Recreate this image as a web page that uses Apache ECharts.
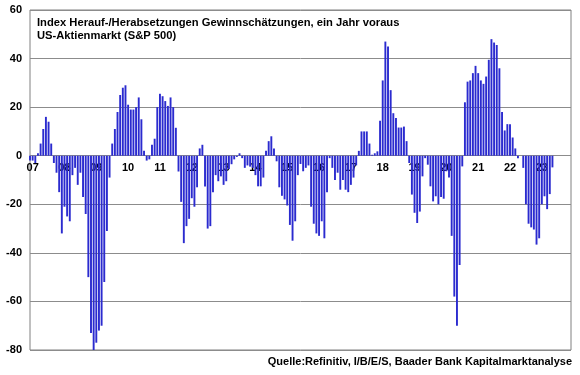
<!DOCTYPE html>
<html>
<head>
<meta charset="utf-8">
<script src="https://cdn.jsdelivr.net/npm/echarts@6/dist/echarts.min.js"></script>
<style>
html,body{margin:0;padding:0;background:#fff;}
#chart{width:580px;height:375px;}
</style>
</head>
<body>
<div id="chart"></div>
<script>
// Monthly values, Dec 2006 .. May 2023
var dec2006 = [-2];
var y2007 = [-2, -3, 1, 5, 11, 16, 14, 5, -3, -7, -15, -32];
var y2008 = [-21, -25, -27, -8, -5, -12, -7, -17, -24, -50, -73, -80];
var y2009 = [-77, -72, -70, -52, -31, -9, 5, 11, 18, 25, 28, 29];
var y2010 = [21, 19, 19, 20, 24, 15, 2, -2, -1.5, 4.5, 7, 20];
var y2011 = [25.5, 24.5, 22.5, 20.5, 24, 20, 11.5, -6.5, -19, -36, -29, -26];
var y2012 = [-17.5, -21, -13, 3, 4.5, -12.7, -30, -29, -15, -8, -10.5, -8.5];
var y2013 = [-12, -10.5, -5.5, -3.5, -1.5, -0.5, 1, -1, -5, -4, -4.5, -5];
var y2014 = [-8, -12.6, -12.6, -9, 2, 6, 8, 3, -2.3, -13, -16.5, -18];
var y2015 = [-20.5, -28.5, -35, -27, -8, -3.4, -6.4, -5, -4, -21, -28, -32];
var y2016 = [-33, -27, -34, -15, -1, -5, -10, -7, -14, -10, -14, -15];
var y2017 = [-12, -9, -4, 2, 10, 10, 10, 5, 0.4, 1, 1.8, 14.4];
var y2018 = [31, 47, 45, 27, 17.5, 15.5, 11.6, 11.6, 12, 6, -3, -16];
var y2019 = [-23.5, -27.7, -23, -8.5, -1, -3.7, -12.6, -18.8, -16.7, -20, -17, -17.7];
var y2020 = [-6.4, -9, -33, -58, -70, -45, -4.4, 22, 30.5, 31, 34, 37];
var y2021 = [34, 31, 29.6, 32.6, 39.5, 48, 46.6, 45.6, 36, 18, 10.4, 13];
var y2022 = [13, 7.5, 3, -1, 0, -5, -20, -28, -29.5, -30.4, -36.6, -34];
var y2023 = [-20, -16.7, -22, -15.8, -4.8];

var years = [2007, 2008, 2009, 2010, 2011, 2012, 2013, 2014, 2015, 2016, 2017, 2018, 2019, 2020, 2021, 2022, 2023];
var yearValues = [y2007, y2008, y2009, y2010, y2011, y2012, y2013, y2014, y2015, y2016, y2017, y2018, y2019, y2020, y2021, y2022, y2023];
var yTicks = [-80, -60, -40, -20, 0, 20, 40, 60];

var titleLines = ['Index Herauf-/Herabsetzungen Gewinnschätzungen, ein Jahr voraus', 'US-Aktienmarkt (S&P 500)'];
var sourceText = 'Quelle:Refinitiv, I/B/E/S, Baader Bank Kapitalmarktanalyse';

// build categories (Dec 2006 .. Dec 2023) and values
var categories = ['2006-12'];
var values = dec2006.slice();
years.forEach(function (yr, k) {
  for (var m = 1; m <= 12; m++) {
    categories.push(yr + '-' + (m < 10 ? '0' + m : '' + m));
    var v = yearValues[k][m - 1];
    values.push(v === undefined ? null : v);
  }
});

var GRID_TOP = 10, GRID_BOTTOM = 25, H = 375;
var plotH = H - GRID_TOP - GRID_BOTTOM;
var ymin = yTicks[0], ymax = yTicks[yTicks.length - 1];
// move the category axis up to the zero line
var zeroOffset = -plotH * (0 - ymin) / (ymax - ymin);

var chart = echarts.init(document.getElementById('chart'), null, {renderer: 'canvas'});
var FONT = '"Liberation Sans", Arial, sans-serif';
chart.setOption({
  animation: false,
  backgroundColor: '#ffffff',
  grid: {left: 30, right: 9, top: GRID_TOP, bottom: GRID_BOTTOM, show: true, borderColor: '#808080', borderWidth: 1, backgroundColor: 'transparent'},
  xAxis: {
    type: 'category',
    data: categories,
    boundaryGap: false,
    position: 'bottom',
    offset: zeroOffset,
    axisLine: {show: false, onZero: false},
    axisTick: {show: false},
    splitLine: {show: false},
    axisLabel: {
      interval: function (idx, val) { return val.slice(5) === '01'; },
      formatter: function (val) { return val.slice(2, 4); },
      fontFamily: FONT, fontWeight: 'bold', fontSize: 11, color: '#000', margin: 7
    }
  },
  yAxis: {
    type: 'value',
    min: ymin, max: ymax, interval: 20,
    axisLine: {show: false},
    axisTick: {show: false},
    splitLine: {show: true, lineStyle: {color: '#8c8c8c', width: 1}},
    axisLabel: {fontFamily: FONT, fontWeight: 'bold', fontSize: 11, color: '#000', margin: 8}
  },
  graphic: [
    {type: 'text', left: 37, top: 16, z: 10, style: {text: titleLines.join('\n'), font: 'bold 11.2px ' + FONT, fill: '#000', lineHeight: 13}},
    {type: 'text', right: 8, top: 356, z: 10, style: {text: sourceText, font: 'bold 11px ' + FONT, fill: '#000'}}
  ],
  series: [{
    type: 'bar',
    data: values,
    barWidth: '72%',
    itemStyle: {color: '#2b2bcf'},
    clip: true
  }]
});
</script>
</body>
</html>
